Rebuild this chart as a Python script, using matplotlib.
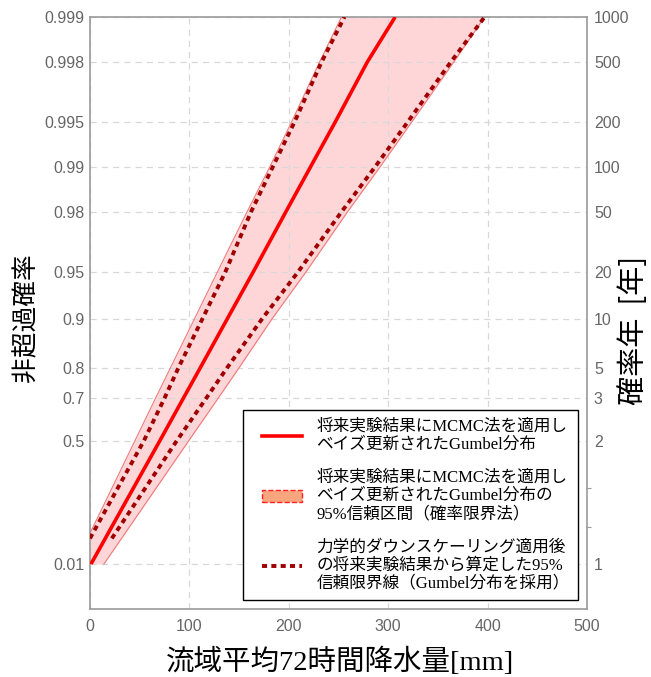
import numpy as np
import matplotlib
matplotlib.use("Agg")
import matplotlib.pyplot as plt
from matplotlib.lines import Line2D
from matplotlib.patches import Patch
from matplotlib.legend_handler import HandlerLine2D, HandlerPatch

# Non-exceedance probability levels (Gumbel probability paper)
levels = [0.01, 0.5, 0.7, 0.8, 0.9, 0.95, 0.98, 0.99, 0.995, 0.998, 0.999]
level_labels = ["0.01", "0.5", "0.7", "0.8", "0.9", "0.95", "0.98", "0.99", "0.995", "0.998", "0.999"]
return_period_labels = ["1", "2", "3", "5", "10", "20", "50", "100", "200", "500", "1000"]

# Bayesian-updated Gumbel distribution (MCMC), 72-hour basin rainfall [mm]
gumbel_mm = [1, 70, 94, 111, 138, 164, 197, 222, 247, 279, 307]
# 95% credible interval bounds
band_upper_mm = [-15, 45, 66, 81, 105, 128, 158, 181, 203, 231, 253]
band_lower_mm = [14, 99, 129, 150, 183, 217, 259, 292, 324, 366, 397]
# 95% confidence limits from dynamical downscaling results
limit_levels = [0.045, 0.5, 0.7, 0.8, 0.9, 0.95, 0.98, 0.99, 0.995, 0.998, 0.999]
limit_upper_mm = [0, 54, 75, 89, 113, 136, 162, 184, 206, 233, 256]
limit_lower_mm = [22, 87, 117, 138, 173, 209, 253, 287, 320, 363, 397]


def to_reduced(p):
    p = np.clip(np.asarray(p, dtype=float), 1e-12, 1 - 1e-12)
    return -np.log(-np.log(p))


def from_reduced(y):
    return np.exp(-np.exp(-np.asarray(y, dtype=float)))


JP = ["Noto Sans CJK JP", "DejaVu Sans"]
MIX = ["Liberation Serif", "Noto Sans CJK JP", "DejaVu Sans"]
TICK = ["Liberation Sans", "DejaVu Sans"]

fig = plt.figure(figsize=(6.51, 6.77), dpi=100)
ax = fig.add_axes([0.1382, 0.1004, 0.7635, 0.8745])
ax.set_yscale("function", functions=(to_reduced, from_reduced))
ax.set_xlim(0, 500)
ax.set_ylim(0.0001, 0.999)

ax.fill_betweenx(levels, band_upper_mm, band_lower_mm, color="#ffd6d8", lw=0, zorder=1)
ax.plot(band_upper_mm, levels, color="#f07a7a", lw=0.8, zorder=2)
ax.plot(band_lower_mm, levels, color="#f07a7a", lw=0.8, zorder=2)
ax.plot(gumbel_mm, levels, color="#ff0000", lw=2.6, zorder=4, solid_capstyle="butt")
for series in (limit_upper_mm, limit_lower_mm):
    ax.plot(series, limit_levels, color="#a00000", lw=2.8, zorder=3,
            dashes=(1.3, 1.1))

ax.set_yticks(levels)
ax.set_yticklabels(level_labels)
ax.set_yticks([], minor=True)
ax.set_xticks([0, 100, 200, 300, 400, 500])
ax.grid(True, color="#d8d8d8", lw=0.9, dashes=(5, 4))
ax.tick_params(axis="both", length=0, colors="#666666", labelsize=11.5)
ax.tick_params(axis="y", pad=4)
ax.tick_params(axis="x", pad=7)
for lab in ax.get_xticklabels() + ax.get_yticklabels():
    lab.set_family(TICK)
for sp in ax.spines.values():
    sp.set_color("#9a9a9a")
    sp.set_linewidth(1.2)

ax2 = ax.twinx()
ax2.set_yscale("function", functions=(to_reduced, from_reduced))
ax2.set_ylim(ax.get_ylim())
ax2.set_yticks(levels)
ax2.set_yticklabels(return_period_labels)
ax2.set_yticks([0.074, 0.24], minor=True)
ax2.tick_params(axis="y", which="major", length=0, pad=5, colors="#666666", labelsize=11.5)
ax2.tick_params(axis="y", which="minor", length=3, width=0.8, color="#9a9a9a")
for lab in ax2.get_yticklabels():
    lab.set_family(TICK)
for sp in ax2.spines.values():
    sp.set_visible(False)

fig.text(0.040, 0.531, "非超過確率", rotation=90, ha="center", va="center",
         fontsize=18.5, family=JP)
fig.text(0.974, 0.5125, "確率年  [年]", rotation=90, ha="center", va="center",
         fontsize=21, family=JP)
fig.text(0.522, 0.022, "流域平均72時間降水量[mm]", ha="center", va="center",
         fontsize=20.5, family=MIX)

handles = [
    Line2D([], [], color="#ff0000", lw=2.6),
    Patch(facecolor="#f9a57e", edgecolor="#ff2020", linestyle="--", lw=1.0),
    Line2D([], [], color="#a00000", lw=2.8, dashes=(1.3, 1.1)),
]
labels = [
    "将来実験結果にMCMC法を適用し\nベイズ更新されたGumbel分布",
    "将来実験結果にMCMC法を適用し\nベイズ更新されたGumbel分布の\n95%信頼区間（確率限界法）",
    "力学的ダウンスケーリング適用後\nの将来実験結果から算定した95%\n信頼限界線（Gumbel分布を採用）",
]
leg = ax2.legend(handles, labels, loc="lower right", bbox_to_anchor=(0.982, 0.015),
                 borderaxespad=0,
                 prop={"family": MIX, "size": 12}, frameon=True, fancybox=False,
                 edgecolor="black", framealpha=1, handlelength=3.0,
                 handletextpad=0.88, labelspacing=1.0, borderpad=0.5,
                 handler_map={Line2D: HandlerLine2D(xpad=0.6),
                              Patch: HandlerPatch(xpad=0.6)})
leg.get_frame().set_linewidth(1.0)

fig.savefig("out.png", dpi=100)
